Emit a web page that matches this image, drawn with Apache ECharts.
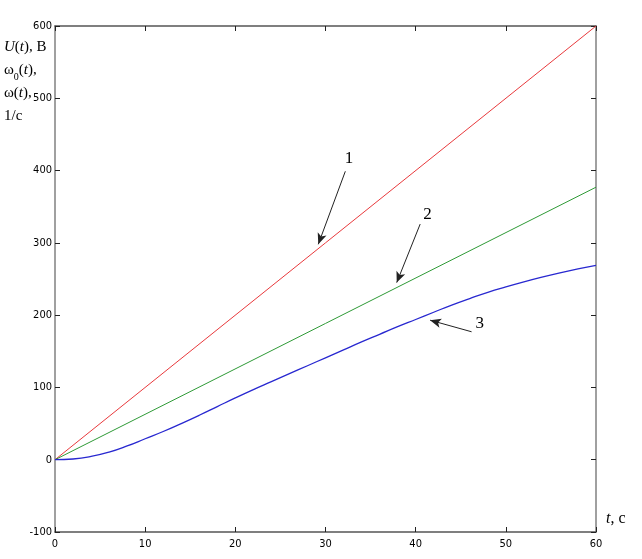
<!DOCTYPE html>
<html>
<head>
<meta charset="utf-8">
<script src="https://cdn.jsdelivr.net/npm/echarts@6/dist/echarts.min.js"></script>
<style>
  html, body { margin: 0; padding: 0; background: #fff; }
  #chart { width: 642px; height: 559px; }
</style>
</head>
<body>
<div id="chart"></div>
<script>
// время, с
var tLine = [0, 60];
var curve1 = [0, 600];   // U(t)
var curve2 = [0, 377];   // w0(t)

var tCurve = [0, 2, 4, 6, 8, 10, 12, 14, 16, 18, 20, 22, 24, 26, 28, 30,
  32, 34, 36, 38, 40, 42, 44, 46, 48, 50, 52, 54, 56, 58, 60];
var curve3 = [0, 1, 4.5, 10.5, 19, 29, 39, 50, 61.5, 73.5, 85.5, 97, 108, 119, 130, 141,
  152, 163, 173.5, 184, 194, 204, 214, 223, 231.5, 239, 246, 252.5, 258.5, 264, 269];

// стрелки-подписи: [номер, хвост, острие, позиция текста]
var arrowNames = ['1', '2', '3'];
var arrowTails = [[32.2, 399], [40.5, 326], [46.2, 177]];
var arrowHeads = [[29.2, 298], [37.9, 245], [41.6, 193]];
var arrowText = [[32.6, 416], [41.3, 339], [47.1, 189]];

function pairs(xs, ys) {
  return xs.map(function (x, i) { return [x, ys[i]]; });
}

function marks(i) {
  return {
    markLine: {
      silent: true,
      symbol: ['none', 'arrow'],
      symbolSize: [7, 11],
      lineStyle: { color: '#222', width: 1, type: 'solid' },
      label: { show: false },
      data: [[{ coord: arrowTails[i] }, { coord: arrowHeads[i] }]]
    },
    markPoint: {
      silent: true,
      symbol: 'circle',
      symbolSize: 1,
      itemStyle: { color: 'rgba(0,0,0,0)' },
      label: {
        show: true, position: 'inside', formatter: arrowNames[i],
        color: '#000', fontFamily: 'Liberation Serif', fontSize: 17
      },
      data: [{ coord: arrowText[i] }]
    }
  };
}

var chart = echarts.init(document.getElementById('chart'));

var axisTick = { show: true, inside: true, length: 5, lineStyle: { color: '#222' } };
var tickFont = { color: '#000', fontFamily: 'DejaVu Sans Condensed', fontSize: 11 };

var option = {
  animation: false,
  backgroundColor: '#fff',
  grid: { left: 55, right: 46, top: 26, bottom: 27 },
  xAxis: [
    {
      type: 'value', min: 0, max: 60, interval: 10,
      axisLine: { show: true, onZero: false, lineStyle: { color: '#555', width: 1.5 } },
      axisTick: axisTick,
      axisLabel: Object.assign({ margin: 7 }, tickFont),
      splitLine: { show: false }
    },
    {
      type: 'value', position: 'top', min: 0, max: 60, interval: 10,
      axisLine: { show: true, onZero: false, lineStyle: { color: '#555', width: 1.5 } },
      axisTick: axisTick,
      axisLabel: { show: false },
      splitLine: { show: false }
    }
  ],
  yAxis: [
    {
      type: 'value', min: -100, max: 600, interval: 100,
      axisLine: { show: true, onZero: false, lineStyle: { color: '#808080', width: 1.5 } },
      axisTick: axisTick,
      axisLabel: Object.assign({ margin: 3 }, tickFont),
      splitLine: { show: false }
    },
    {
      type: 'value', position: 'right', min: -100, max: 600, interval: 100,
      axisLine: { show: true, onZero: false, lineStyle: { color: '#808080', width: 1.5 } },
      axisTick: axisTick,
      axisLabel: { show: false },
      splitLine: { show: false }
    }
  ],
  series: [
    Object.assign({
      name: '1', type: 'line', data: pairs(tLine, curve1),
      showSymbol: false, lineStyle: { color: '#e8393c', width: 1 }
    }, marks(0)),
    Object.assign({
      name: '2', type: 'line', data: pairs(tLine, curve2),
      showSymbol: false, lineStyle: { color: '#2e9a36', width: 1 }
    }, marks(1)),
    Object.assign({
      name: '3', type: 'line', data: pairs(tCurve, curve3), smooth: true,
      showSymbol: false, lineStyle: { color: '#2828d0', width: 1.3 }
    }, marks(2))
  ],
  graphic: [
    {
      type: 'text', left: 4, top: 36,
      style: {
        text: '{i|U}({i|t}), B\n{n|ω}{s|0}({i|t}),\n{n|ω}({i|t}),\n1/c',
        fontFamily: 'Liberation Serif', fontSize: 15, lineHeight: 23, fill: '#000',
        rich: {
          i: { fontStyle: 'italic', fontFamily: 'Liberation Serif', fontSize: 15, lineHeight: 23 },
          n: { fontFamily: 'Liberation Serif', fontSize: 15, lineHeight: 23 },
          s: { fontFamily: 'Liberation Serif', fontSize: 10, lineHeight: 16, verticalAlign: 'bottom' }
        }
      }
    },
    {
      type: 'text', left: 606, top: 511,
      style: {
        text: '{i|t}, c',
        fontFamily: 'Liberation Serif', fontSize: 16, fill: '#000',
        rich: { i: { fontStyle: 'italic', fontFamily: 'Liberation Serif', fontSize: 16 } }
      }
    }
  ]
};

chart.setOption(option);
</script>
</body>
</html>
